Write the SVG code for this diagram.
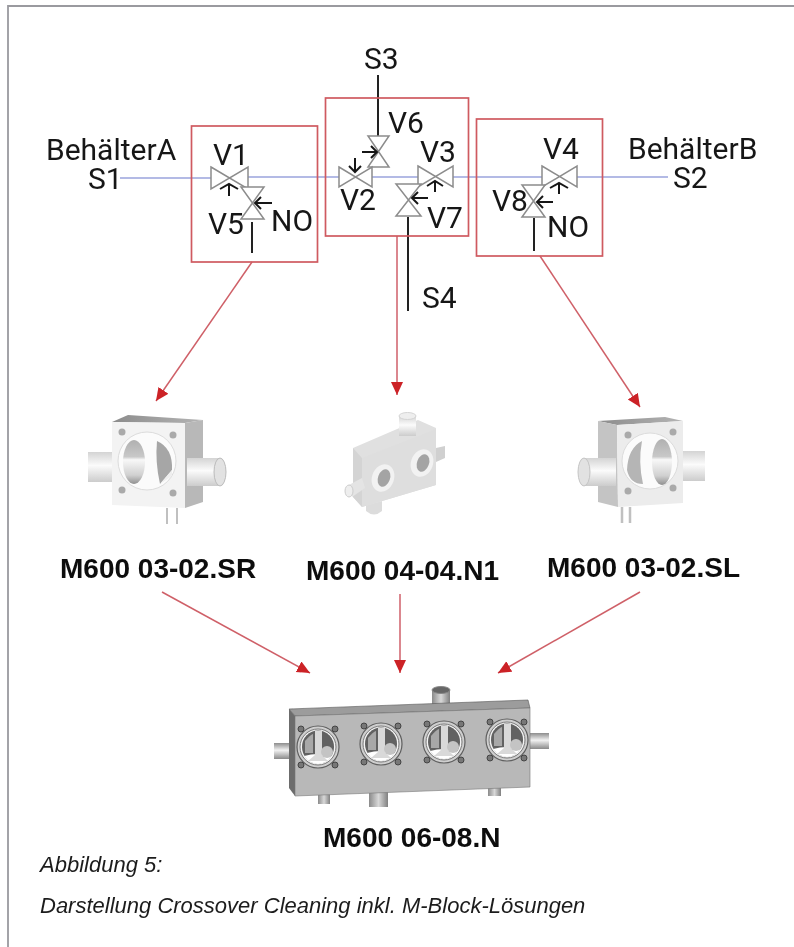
<svg xmlns="http://www.w3.org/2000/svg" xmlns:xlink="http://www.w3.org/1999/xlink" width="794" height="947" viewBox="0 0 794 947">
<style>
text{font-family:Roboto,"Liberation Sans",sans-serif;fill:#161616;font-size:30px}
.b{font-family:"Liberation Sans",Arial,sans-serif;font-weight:700;font-size:28px;fill:#0c0c0c}
.c{font-family:"Liberation Sans",Arial,sans-serif;font-style:italic;font-size:22px;fill:#1c1c1c}
.box{fill:none;stroke:#cf5a60;stroke-width:1.700}
.pipe{fill:none;stroke:#9aa3dc;stroke-width:1.600}
.blk{fill:none;stroke:#222;stroke-width:2}
.v{fill:#fff;stroke:#8c8c8c;stroke-width:1.500}
.act{fill:none;stroke:#181818;stroke-width:2}
.red{fill:none;stroke:#cf6068;stroke-width:1.500}
</style>
<defs>
<marker id="ah" markerWidth="15" markerHeight="14" refX="13" refY="6" orient="auto" markerUnits="userSpaceOnUse"><path d="M0 0L13 6L0 12Z" fill="#cc2128"/></marker>
<filter id="all" filterUnits="userSpaceOnUse" x="0" y="0" width="794" height="947"><feGaussianBlur stdDeviation="0.45"/></filter>
<filter id="soft" filterUnits="userSpaceOnUse" x="0" y="380" width="794" height="160"><feGaussianBlur stdDeviation="0.7"/></filter>
<linearGradient id="pv" x1="0" y1="0" x2="0" y2="1"><stop offset="0" stop-color="#d4d4d4"/><stop offset=".45" stop-color="#fbfbfb"/><stop offset="1" stop-color="#cccccc"/></linearGradient>
<linearGradient id="pv2" x1="0" y1="0" x2="0" y2="1"><stop offset="0" stop-color="#8d8d8d"/><stop offset=".45" stop-color="#f2f2f2"/><stop offset="1" stop-color="#8a8a8a"/></linearGradient>
<linearGradient id="ph" x1="0" y1="0" x2="1" y2="0"><stop offset="0" stop-color="#8a8a8a"/><stop offset=".5" stop-color="#d8d8d8"/><stop offset="1" stop-color="#808080"/></linearGradient>
<linearGradient id="top" x1="0" y1="0" x2="1" y2="0"><stop offset="0" stop-color="#8c8c8c"/><stop offset="1" stop-color="#b4b4b4"/></linearGradient>
<linearGradient id="win" x1="0" y1="0" x2="0" y2="1"><stop offset="0" stop-color="#b0b0b0"/><stop offset=".38" stop-color="#c8c8c8"/><stop offset=".45" stop-color="#f8f8f8"/><stop offset=".8" stop-color="#d0d0d0"/><stop offset="1" stop-color="#909090"/></linearGradient>
<g id="port">
<circle r="21" fill="#cfcfcf" stroke="#5e5e5e" stroke-width="1.200"/>
<circle r="18" fill="#f4f4f4" stroke="#777" stroke-width="1"/>
<ellipse cx="0" cy="0" rx="16" ry="16.500" fill="#626262"/>
<path d="M-14 9Q0 5 14 9Q8 17 0 17T-14 9Z" fill="#fff"/>
<path d="M-3 -16H4V8L10 14H-10L-3 8Z" fill="#d9d9d9"/>
<path d="M-13 -6Q-8 -12 -5 -13V6H-13Z" fill="#a8a8a8"/>
<ellipse cx="9" cy="5" rx="6" ry="6" fill="#c4c4c4"/>
<circle cx="-17" cy="-18" r="3" fill="#777" stroke="#3c3c3c" stroke-width=".9"/>
<circle cx="17" cy="-18" r="3" fill="#777" stroke="#3c3c3c" stroke-width=".9"/>
<circle cx="-17" cy="18" r="3" fill="#777" stroke="#3c3c3c" stroke-width=".9"/>
<circle cx="17" cy="18" r="3" fill="#777" stroke="#3c3c3c" stroke-width=".9"/>
</g>
</defs>
<rect width="794" height="947" fill="#fff"/>
<path d="M8 947V6H794" fill="none" stroke="#9a9a9f" stroke-width="1.800"/>

<g filter="url(#all)">
<g id="connectors">
<path class="pipe" d="M120 178H211"/>
<path class="pipe" d="M248 177H339"/>
<path class="pipe" d="M372 177H418"/>
<path class="pipe" d="M453 177H542"/>
<path class="pipe" d="M577 177H668"/>
<path class="blk" d="M378 75V136"/>
<path class="blk" d="M252 222V253"/>
<path class="blk" d="M408 217V311"/>
<path class="blk" d="M534 218V251"/>
<path class="red" d="M252 262L156 401" marker-end="url(#ah)"/>
<path class="red" d="M397 236V395" marker-end="url(#ah)"/>
<path class="red" d="M540 256L640 407" marker-end="url(#ah)"/>
<path class="red" d="M162 592L310 673" marker-end="url(#ah)"/>
<path class="red" d="M400 594V673" marker-end="url(#ah)"/>
<path class="red" d="M640 592L498 673" marker-end="url(#ah)"/>
</g>

<g id="box1"><rect class="box" x="191.500" y="126" width="126" height="136"/></g>
<g id="box2"><rect class="box" x="325.500" y="98" width="143" height="138"/></g>
<g id="box3"><rect class="box" x="476.500" y="119" width="126" height="137"/></g>

<g id="V1"><path class="v" d="M211 167L248 189V167L211 189Z"/><path class="act" d="M229 196V184M220 189L229 184L238 189"/><text x="213" y="165">V1</text></g>
<g id="V5"><path class="v" d="M241 187H264L241 219H264Z"/><path class="act" d="M272 203H256M261 197L255 203L261 209"/><text x="208" y="234">V5</text><text x="271" y="231">NO</text></g>
<g id="V6"><path class="v" d="M368 136H389L368 167H389Z"/><path class="act" d="M362 152H377M371 146L377 152L371 158"/><text x="388" y="133">V6</text></g>
<g id="V2"><path class="v" d="M339 167L372 187V167L339 187Z"/><path class="act" d="M355 158V172M349 166L355 172L361 166"/><text x="340" y="210">V2</text></g>
<g id="V3"><path class="v" d="M418 166L453 187V166L418 187Z"/><path class="act" d="M435 192V181M427 186L435 181L443 186"/><text x="420" y="162">V3</text></g>
<g id="V7"><path class="v" d="M396 184H421L396 216H421Z"/><path class="act" d="M428 198H413M418 192L412 198L418 204"/><text x="427" y="228">V7</text></g>
<g id="V4"><path class="v" d="M542 166L577 187V166L542 187Z"/><path class="act" d="M559 194V183M550 188L559 183L568 188"/><text x="543" y="159">V4</text></g>
<g id="V8"><path class="v" d="M522 185H545L522 217H545Z"/><path class="act" d="M553 202H538M543 196L537 202L543 208"/><text x="492" y="211">V8</text><text x="547" y="237">NO</text></g>

<g id="labels">
<text x="46" y="160">BehälterA</text>
<text x="88" y="189">S1</text>
<text x="364" y="69">S3</text>
<text x="422" y="308">S4</text>
<svg x="620" y="130" width="138" height="40" viewBox="620 130 138 40"><text x="628" y="159">BehälterB</text></svg>
<text x="673" y="188">S2</text>
</g>

<g id="partSR" filter="url(#soft)">
<rect x="88" y="452" width="26" height="30" fill="url(#pv)"/>
<path d="M112 422L128 415L203 420L185 423Z" fill="url(#top)"/>
<path d="M185 423L203 420V502L185 508Z" fill="#b8b8b8"/>
<path d="M112 422L185 423V508L112 505Z" fill="#f3f3f3"/>
<rect x="187" y="458" width="33" height="28" fill="url(#pv)"/>
<ellipse cx="220" cy="472" rx="6" ry="14" fill="#e2e2e2" stroke="#bbb"/>
<circle cx="147" cy="461" r="29" fill="#fbfbfb" stroke="#dcdcdc"/>
<ellipse cx="134" cy="462" rx="11" ry="22" fill="url(#win)"/>
<path d="M157 441Q173 448 172 470L160 484Q155 462 157 441Z" fill="#a6a6a6"/>
<path d="M160 484L172 470V476Z" fill="#eee"/>
<circle cx="122" cy="432" r="3.500" fill="#aaa"/><circle cx="173" cy="435" r="3.500" fill="#aaa"/><circle cx="122" cy="490" r="3.500" fill="#aaa"/><circle cx="173" cy="493" r="3.500" fill="#aaa"/>
<path d="M167 508V524M177 508V524" stroke="#c0c0c0" stroke-width="2" fill="none"/>
</g>

<g id="partN1" filter="url(#soft)">
<path d="M436 448L445 446V458L436 462Z" fill="#d0d0d0"/>
<path d="M366 505L382 501V511Q374 518 366 511Z" fill="#dcdcdc"/>
<path d="M353 448L418 420L436 428V485L362 507L353 497Z" fill="#e0e0e0"/>
<path d="M362 458L436 429V485L362 507Z" fill="#dedede"/>
<path d="M353 448L362 458V507L353 497Z" fill="#d4d4d4"/>
<rect x="399" y="416" width="17" height="20" fill="url(#pv)"/>
<ellipse cx="407.500" cy="416" rx="8.500" ry="3.500" fill="#eee" stroke="#d4d4d4"/>
<path d="M347 486L362 478L365 488L352 497Z" fill="#e4e4e4"/>
<ellipse cx="349" cy="491" rx="4" ry="6" fill="#eee" stroke="#ccc"/>
<ellipse cx="383" cy="478" rx="11" ry="14" fill="#f2f2f2" transform="rotate(20 383 478)"/><ellipse cx="384" cy="478" rx="6" ry="9" fill="#a4a4a4" transform="rotate(20 384 478)"/>
<ellipse cx="422" cy="463" rx="11" ry="14" fill="#f2f2f2" transform="rotate(20 422 463)"/><ellipse cx="423" cy="463" rx="6" ry="9" fill="#a4a4a4" transform="rotate(20 423 463)"/>
</g>

<g id="partSL" filter="url(#soft)">
<rect x="681" y="451" width="24" height="30" fill="url(#pv)"/>
<path d="M598 421L665 417L683 421L617 425Z" fill="url(#top)"/>
<path d="M598 421L617 425L618 507L598 502Z" fill="#c4c4c4"/>
<path d="M617 425L683 421V503L618 507Z" fill="#ececec"/>
<rect x="584" y="458" width="32" height="28" fill="url(#pv)"/>
<ellipse cx="584" cy="472" rx="6" ry="14" fill="#e2e2e2" stroke="#c4c4c4"/>
<circle cx="650" cy="461" r="28" fill="#fbfbfb" stroke="#dcdcdc"/>
<ellipse cx="662" cy="462" rx="10" ry="23" fill="url(#win)"/>
<path d="M642 441Q628 448 627 470Q630 484 643 484Q638 462 642 441Z" fill="#b5b5b5"/>
<circle cx="628" cy="435" r="3.500" fill="#aaa"/><circle cx="673" cy="432" r="3.500" fill="#aaa"/><circle cx="628" cy="491" r="3.500" fill="#aaa"/><circle cx="673" cy="488" r="3.500" fill="#aaa"/>
<path d="M622 507V523M630 507V523" stroke="#c0c0c0" stroke-width="2.500" fill="none"/>
</g>

<g id="partN">
<rect x="432" y="690" width="18" height="19" fill="url(#ph)"/>
<ellipse cx="441" cy="690" rx="9" ry="3.500" fill="#666" stroke="#888"/>
<rect x="274" y="743" width="20" height="16" fill="url(#pv2)"/>
<rect x="530" y="733" width="19" height="16" fill="url(#pv2)"/>
<rect x="318" y="794" width="12" height="10" fill="url(#ph)"/>
<rect x="369" y="792" width="19" height="15" fill="url(#ph)"/>
<rect x="488" y="786" width="13" height="10" fill="url(#ph)"/>
<path d="M289 709L528 700L530 708L295 716Z" fill="#9c9c9c" stroke="#555" stroke-width=".6"/>
<path d="M289 709L295 716V796L289 788Z" fill="#6c6c6c"/>
<path d="M295 716L530 708V787L295 796Z" fill="#b8b8b8" stroke="#777" stroke-width=".6"/>
<use xlink:href="#port" x="318" y="747"/>
<use xlink:href="#port" x="381" y="744"/>
<use xlink:href="#port" x="444" y="742"/>
<use xlink:href="#port" x="507" y="740"/>
</g>

<g id="names">
<text class="b" x="60" y="578">M600 03-02.SR</text>
<text class="b" x="306" y="580">M600 04-04.N1</text>
<text class="b" x="547" y="577">M600 03-02.SL</text>
<text class="b" x="323" y="847">M600 06-08.N</text>
</g>
<g id="caption">
<text class="c" x="40" y="872">Abbildung 5:</text>
<text class="c" x="40" y="913">Darstellung Crossover Cleaning inkl. M-Block-Lösungen</text>
</g>
</g>
</svg>
